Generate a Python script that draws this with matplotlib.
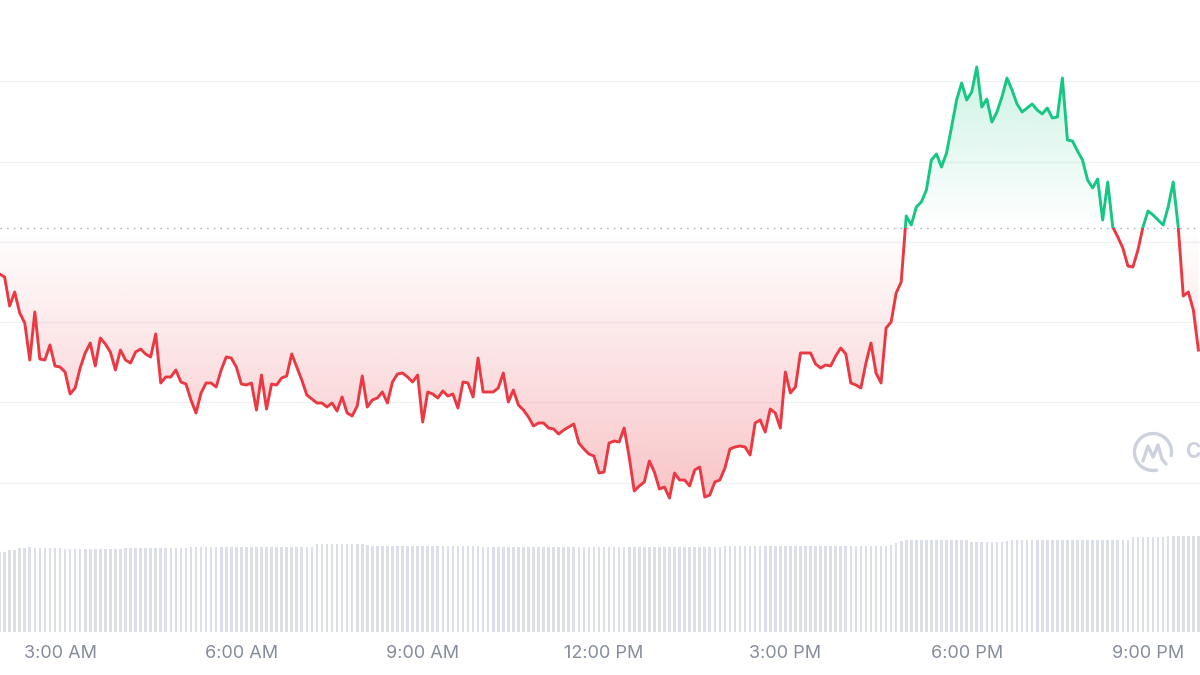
import numpy as np
import pandas as pd
import matplotlib
matplotlib.use('Agg')
import matplotlib.pyplot as plt
import matplotlib.dates as mdates
from matplotlib.patches import Rectangle, Arc
from matplotlib.path import Path
from matplotlib.colors import to_rgb

# price every 5 minutes, starting 02:00
prices = [
    430, 427, 398, 412, 391, 381, 344, 392, 345, 344,
    359, 338, 337, 332, 310, 316, 336, 351, 361, 338,
    366, 360, 352, 334, 354, 344, 341, 352, 355, 350,
    347, 370, 321, 327, 327, 334, 322, 320, 304, 291,
    311, 321, 321, 317, 334, 347, 346, 337, 320, 319,
    321, 294, 329, 295, 320, 319, 326, 328, 350, 337,
    324, 309, 305, 301, 301, 297, 301, 293, 307, 291,
    288, 298, 328, 297, 304, 306, 312, 301, 322, 330,
    331, 327, 322, 329, 282, 312, 310, 306, 313, 308,
    310, 296, 322, 321, 307, 346, 312, 312, 312, 316,
    331, 302, 314, 299, 294, 287, 278, 281, 281, 276,
    275, 270, 274, 277, 280, 261, 255, 250, 248, 231,
    232, 261, 263, 262, 276, 247, 213, 218, 222, 243,
    232, 215, 217, 206, 231, 224, 224, 218, 234, 237,
    207, 209, 222, 224, 236, 255, 257, 258, 257, 249,
    281, 284, 272, 295, 291, 276, 332, 311, 317, 351,
    351, 351, 340, 336, 339, 338, 348, 356, 350, 321,
    319, 316, 341, 361, 331, 321, 376, 382, 411, 422,
    488, 479, 497, 502, 514, 544, 550, 537, 551, 577,
    604, 621, 604, 612, 637, 597, 605, 582, 592, 607,
    626, 614, 600, 592, 596, 600, 594, 590, 596, 586,
    587, 626, 564, 563, 553, 544, 524, 516, 525, 484,
    522, 477, 467, 456, 438, 437, 454, 477, 493, 489,
    484, 479, 497, 522, 477, 408, 412, 394, 354,
]

volumes = [
    80, 80, 82, 82, 84, 84, 85, 84, 84, 84,
    84, 84, 84, 83, 83, 83, 83, 83, 83, 83,
    83, 83, 83, 83, 83, 84, 84, 84, 84, 84,
    84, 84, 84, 84, 84, 84, 84, 84, 85, 85,
    85, 85, 85, 85, 85, 85, 85, 85, 85, 85,
    85, 85, 85, 85, 85, 85, 85, 85, 85, 85,
    85, 85, 85, 88, 88, 88, 88, 88, 88, 88,
    88, 88, 88, 87, 86, 86, 86, 86, 86, 86,
    86, 86, 86, 86, 86, 86, 86, 86, 86, 86,
    86, 86, 86, 86, 86, 86, 85, 85, 85, 85,
    85, 85, 85, 85, 85, 85, 85, 85, 85, 85,
    85, 85, 85, 85, 85, 85, 85, 85, 85, 85,
    85, 85, 85, 85, 85, 85, 85, 85, 85, 85,
    85, 85, 85, 85, 85, 85, 85, 85, 85, 85,
    85, 85, 85, 85, 86, 86, 86, 86, 86, 86,
    86, 86, 86, 86, 86, 86, 86, 86, 86, 86,
    86, 86, 86, 86, 86, 86, 86, 86, 86, 86,
    86, 86, 86, 86, 86, 86, 86, 87, 89, 91,
    92, 92, 92, 92, 92, 92, 92, 92, 92, 92,
    92, 92, 92, 90, 90, 90, 90, 90, 90, 90,
    91, 92, 92, 92, 92, 92, 92, 92, 92, 92,
    92, 92, 92, 92, 92, 92, 92, 92, 92, 92,
    92, 92, 92, 92, 92, 95, 95, 95, 95, 95,
    95, 95, 96, 96, 96, 96, 96, 96, 96,
]

baseline = 476
grid_levels = [221, 302, 382, 462, 542, 623]
tick_labels = ['3:00 AM', '6:00 AM', '9:00 AM', '12:00 PM', '3:00 PM', '6:00 PM', '9:00 PM']

times = pd.date_range('2024-05-01 02:00', periods=len(prices), freq='5min')
tick_times = pd.date_range('2024-05-01 03:00', periods=len(tick_labels), freq='3h')
t_start = pd.Timestamp('2024-05-01 02:00:26')
t_end = pd.Timestamp('2024-05-01 21:51:36')

RED = '#ea3943'
GREEN = '#16c784'

plt.rcParams['font.family'] = ['Inter', 'DejaVu Sans']

x = mdates.date2num(times)
p = np.array(prices, dtype=float)
x0, x1 = mdates.date2num(t_start), mdates.date2num(t_end)

fig = plt.figure(figsize=(12, 6.75), dpi=100)
rect = [0, 43 / 675, 1, 632 / 675]

# volume bars underneath
vax = fig.add_axes(rect)
vax.bar(x, volumes, width=2.6 / 1440, color='#dcdfea', linewidth=0)
vax.set_ylim(0, 632)
vax.axis('off')

ax = fig.add_axes(rect, sharex=vax)
ax.patch.set_alpha(0)

# gradient fills, clipped to the area between line and baseline
n = 256
a = np.linspace(0, 1, n)[:, None]

fr = ax.fill_between(x, p, baseline, where=p < baseline, interpolate=True,
                     facecolor='none', linewidth=0)
red_img = np.zeros((n, 1, 4))
red_img[..., :3] = to_rgb(RED)
red_img[..., 3] = 0.30 * (1 - a)
im_r = ax.imshow(red_img, extent=[x0 - 1, x1 + 1, 200, baseline], origin='lower',
                 aspect='auto', zorder=1, interpolation='bilinear')
im_r.set_clip_path(Path.make_compound_path(*fr.get_paths()), ax.transData)

fg = ax.fill_between(x, p, baseline, where=p > baseline, interpolate=True,
                     facecolor='none', linewidth=0)
green_img = np.zeros((n, 1, 4))
green_img[..., :3] = to_rgb(GREEN)
green_img[..., 3] = 0.22 * a
im_g = ax.imshow(green_img, extent=[x0 - 1, x1 + 1, baseline, 640], origin='lower',
                 aspect='auto', zorder=1, interpolation='bilinear')
im_g.set_clip_path(Path.make_compound_path(*fg.get_paths()), ax.transData)

# baseline
ax.axhline(baseline, color='#a3a8b5', lw=1, linestyle=(0, (1, 3.8)), zorder=2)

# price line, red below and green above the baseline
line_r, = ax.plot(x, p, color=RED, lw=2.1, solid_joinstyle='round', zorder=3)
line_r.set_clip_path(Rectangle((x0 - 1, 0), x1 - x0 + 2, baseline, transform=ax.transData))
line_g, = ax.plot(x, p, color=GREEN, lw=2.1, solid_joinstyle='round', zorder=3)
line_g.set_clip_path(Rectangle((x0 - 1, baseline), x1 - x0 + 2, 1000, transform=ax.transData))

ax.set_xlim(x0, x1)
ax.set_ylim(704 - 632, 704)
ax.set_yticks(grid_levels)
ax.yaxis.grid(True, color='#eff1f4', lw=1)
ax.set_axisbelow(True)
ax.tick_params(axis='y', left=False, labelleft=False)
ax.set_xticks(mdates.date2num(tick_times))
ax.set_xticklabels(tick_labels)
ax.tick_params(axis='x', length=0, pad=9, labelsize=13, labelcolor='#858c9c')
for s in ax.spines.values():
    s.set_visible(False)

# watermark (cut off by the right edge, as in the source)
ov = fig.add_axes([0, 0, 1, 1])
ov.set_xlim(0, 1200)
ov.set_ylim(675, 0)
ov.axis('off')
ov.add_patch(Arc((1153, 452), 37, 37, theta1=75, theta2=375, color='#cdd1dd', lw=2.4))
ov.plot([1143, 1148, 1153, 1158, 1162, 1166], [461, 446, 457, 445, 459, 464],
        color='#cdd1dd', lw=2.4, solid_joinstyle='round', solid_capstyle='round')
ov.text(1186, 452, 'CoinMarketCap', fontsize=15, color='#cdd1dd', va='center',
        ha='left', fontweight='bold')

fig.savefig('out.png', dpi=100, facecolor='white')
